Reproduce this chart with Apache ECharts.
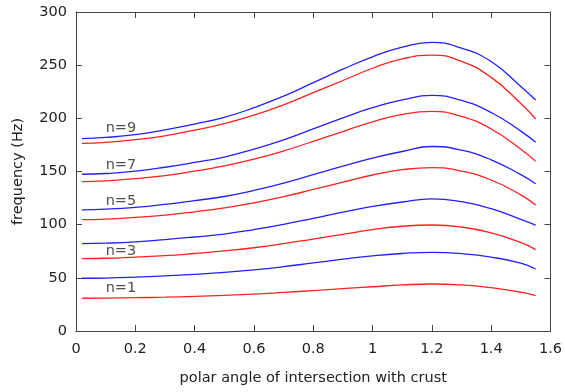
<!DOCTYPE html>
<html>
<head>
<meta charset="utf-8">
<script src="https://cdn.jsdelivr.net/npm/echarts@6/dist/echarts.min.js"></script>
<style>
    html, body { margin: 0; padding: 0; background: #fff; }
    #main { width: 565px; height: 392px; }
</style>
</head>
<body>
<div id="main"></div>
<script>
// polar angle samples
var angles = [0.02, 0.1, 0.2, 0.3, 0.4, 0.5, 0.6, 0.7, 0.8, 0.9, 1.0, 1.1, 1.2, 1.3, 1.4, 1.5, 1.55];

// frequencies (Hz)
var blue9 = [181, 182, 184.6, 189.1, 194.6, 200.9, 210, 220.8, 233.5, 246.2, 257.9, 267, 271.5, 266, 253.4, 230, 217.2];
var red9 = [176.5, 177.4, 180, 183.6, 188.9, 195, 203, 212.7, 224.2, 235.6, 247.1, 255.9, 259.5, 253.5, 238.5, 214, 199.4];
var blue7 = [147.4, 148.1, 150.3, 154, 158.5, 163.6, 171, 179.8, 190.1, 200.5, 210, 217.4, 221.5, 216.8, 205.5, 188, 177.5];
var red7 = [140.5, 141.2, 143.3, 146.1, 150.3, 155.3, 161.6, 169.3, 178.4, 187.6, 196.7, 203.7, 206.5, 201.8, 190, 171, 159.5];
var blue5 = [114, 114.6, 116.3, 119.1, 122.6, 126.5, 132.2, 139.1, 147.1, 155, 162.5, 168.8, 173.5, 170, 161, 147, 138.5];
var red5 = [104.8, 105.3, 106.9, 109, 112.1, 115.8, 120.5, 126.3, 133.1, 139.9, 146.7, 151.7, 153.6, 150.4, 142, 128, 118.5];
var blue3 = [82.2, 82.6, 83.8, 85.9, 88.4, 91.2, 95.4, 100.3, 106, 111.8, 117.1, 121.3, 124.3, 121.6, 115, 105, 99.5];
var red3 = [68.1, 68.4, 69.5, 70.8, 72.9, 75.3, 78.3, 82.1, 86.5, 90.9, 95.3, 98.5, 99.7, 97.8, 92.3, 83.3, 76.5];
var blue1 = [49.6, 49.8, 50.6, 51.8, 53.3, 55.1, 57.5, 60.5, 64, 67.5, 70.7, 72.9, 74, 72.8, 69.5, 63.8, 58.3];
var red1 = [30.8, 30.9, 31.3, 31.8, 32.6, 33.5, 34.7, 36.3, 38, 39.8, 41.6, 43.3, 44.2, 43.3, 40.7, 36.5, 33.3];

// curve labels
var labelText = ['n=1', 'n=3', 'n=5', 'n=7', 'n=9'];
var labelX = [0.1, 0.1, 0.1, 0.1, 0.1];
var labelY = [40, 75, 122, 155.5, 190.5];

var xTicks = { min: 0, max: 1.6, interval: 0.2 };
var yTicks = { min: 0, max: 300, interval: 50 };

function pairs(ys) {
    var out = [];
    for (var i = 0; i < angles.length; i++) {
        out.push([angles[i], ys[i]]);
    }
    return out;
}

function curve(ys, color) {
    return {
        type: 'line',
        data: pairs(ys),
        smooth: 0.5,
        smoothConstraint: false,
        symbol: 'none',
        lineStyle: { color: color, width: 1.3 },
        silent: true
    };
}

var textFont = 'DejaVu Sans';
var fontSize = 14.5;
var axisColor = '#444';

var myChart = echarts.init(document.getElementById('main'));

var labelData = [];
for (var i = 0; i < labelText.length; i++) {
    labelData.push({ value: [labelX[i], labelY[i]], name: labelText[i] });
}

var series = [
    curve(red1, '#ff2020'), curve(blue1, '#2020ff'),
    curve(red3, '#ff2020'), curve(blue3, '#2020ff'),
    curve(red5, '#ff2020'), curve(blue5, '#2020ff'),
    curve(red7, '#ff2020'), curve(blue7, '#2020ff'),
    curve(red9, '#ff2020'), curve(blue9, '#2020ff'),
    {
        type: 'scatter',
        symbolSize: 0,
        data: labelData,
        label: {
            show: true,
            position: 'right',
            distance: 0,
            formatter: '{b}',
            fontFamily: textFont,
            fontSize: fontSize,
            color: '#222'
        },
        silent: true
    }
];

var tickStyle = { show: true, inside: true, length: 6, lineStyle: { color: axisColor } };
var lineStyle = { show: true, onZero: false, lineStyle: { color: axisColor, width: 1 } };

option = {
    animation: false,
    grid: { left: 76, right: 13, top: 12, bottom: 61 },
    xAxis: [{
        type: 'value',
        min: xTicks.min, max: xTicks.max, interval: xTicks.interval,
        name: 'polar angle of intersection with crust',
        nameLocation: 'middle',
        nameGap: 40,
        nameTextStyle: { fontFamily: textFont, fontSize: fontSize, color: '#222' },
        axisLine: lineStyle,
        axisTick: tickStyle,
        splitLine: { show: false },
        axisLabel: {
            margin: 11,
            fontFamily: textFont, fontSize: fontSize, color: '#222',
            formatter: function (v) { return String(+v.toFixed(1)); }
        }
    }, {
        type: 'value', position: 'top',
        min: xTicks.min, max: xTicks.max, interval: xTicks.interval,
        axisLine: lineStyle,
        axisTick: tickStyle,
        axisLabel: { show: false },
        splitLine: { show: false }
    }],
    yAxis: [{
        type: 'value',
        min: yTicks.min, max: yTicks.max, interval: yTicks.interval,
        name: 'frequency (Hz)',
        nameLocation: 'middle',
        nameGap: 50,
        nameTextStyle: { fontFamily: textFont, fontSize: fontSize, color: '#222' },
        axisLine: lineStyle,
        axisTick: tickStyle,
        splitLine: { show: false },
        axisLabel: { margin: 9, fontFamily: textFont, fontSize: fontSize, color: '#222' }
    }, {
        type: 'value', position: 'right',
        min: yTicks.min, max: yTicks.max, interval: yTicks.interval,
        axisLine: lineStyle,
        axisTick: tickStyle,
        axisLabel: { show: false },
        splitLine: { show: false }
    }],
    series: series
};

myChart.setOption(option);
</script>
</body>
</html>
